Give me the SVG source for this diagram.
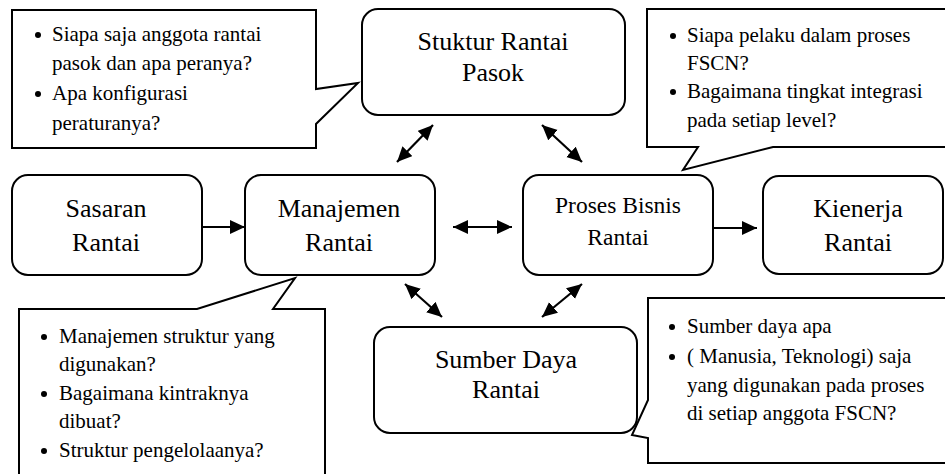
<svg xmlns="http://www.w3.org/2000/svg" width="945" height="474" viewBox="0 0 945 474">
<style>
.box{fill:#fff;stroke:#000;stroke-width:2}
.co{fill:#fff;stroke:#000;stroke-width:2;stroke-linejoin:miter}
text{font-family:'Liberation Serif',Tinos,'Times New Roman',Times,'Nimbus Roman','Nimbus Roman No9 L',FreeSerif,serif;fill:#000}
.nt{font-size:26px;text-anchor:middle}
.ct{font-size:21px}
.ar{stroke:#000;stroke-width:2.2;fill:none}
</style>
<defs>
<marker id="ah" markerUnits="userSpaceOnUse" markerWidth="17" markerHeight="15" refX="15" refY="7" orient="auto-start-reverse">
<path d="M0,0 L15,7 L0,14 z" fill="#000"/>
</marker>
</defs>
<rect width="945" height="474" fill="#fff"/>

<g id="callout-struktur">
<path class="co" d="M12,10 H316 V89 L358,83 L316,124 V148 H12 Z"/>
<circle cx="38" cy="35" r="3"/>
<text class="ct" x="52" y="41">Siapa saja anggota rantai</text>
<text class="ct" x="52" y="70">pasok dan apa peranya?</text>
<circle cx="38" cy="94" r="3"/>
<text class="ct" x="52" y="100">Apa konfigurasi</text>
<text class="ct" x="52" y="130">peraturanya?</text>
</g>

<g id="callout-proses">
<path class="co" d="M647,9 H952 V147 H773 L683,170 L698,147 H647 Z"/>
<circle cx="673" cy="36" r="3"/>
<text class="ct" x="687" y="42">Siapa pelaku dalam proses</text>
<text class="ct" x="687" y="70">FSCN?</text>
<circle cx="673" cy="92" r="3"/>
<text class="ct" x="687" y="98">Bagaimana tingkat integrasi</text>
<text class="ct" x="687" y="127">pada setiap level?</text>
</g>

<g id="callout-manajemen">
<path class="co" d="M19,309 H197 L295,278 L273,309 H325 V480 H19 Z"/>
<circle cx="44" cy="337" r="3"/>
<text class="ct" x="59" y="343">Manajemen struktur yang</text>
<text class="ct" x="59" y="371">digunakan?</text>
<circle cx="44" cy="394" r="3"/>
<text class="ct" x="59" y="400">Bagaimana kintraknya</text>
<text class="ct" x="59" y="428">dibuat?</text>
<circle cx="44" cy="451" r="3"/>
<text class="ct" x="59" y="457">Struktur pengelolaanya?</text>
</g>

<g id="callout-sumber">
<path class="co" d="M648,298 H952 V463 H648 V438 L632,435 L648,400 Z"/>
<circle cx="672" cy="327" r="3"/>
<text class="ct" x="687" y="333">Sumber daya apa</text>
<circle cx="672" cy="357" r="3"/>
<text class="ct" x="687" y="363">( Manusia, Teknologi) saja</text>
<text class="ct" x="687" y="392">yang digunakan pada proses</text>
<text class="ct" x="687" y="420">di setiap anggota FSCN?</text>
</g>

<g id="node-stuktur">
<rect class="box" x="362" y="9" width="263" height="106" rx="16"/>
<text class="nt" x="493" y="50">Stuktur Rantai</text>
<text class="nt" x="493" y="81">Pasok</text>
</g>

<g id="node-sasaran">
<rect class="box" x="12" y="175" width="190" height="100" rx="16"/>
<text class="nt" x="106" y="217">Sasaran</text>
<text class="nt" x="106" y="251">Rantai</text>
</g>

<g id="node-manajemen">
<rect class="box" x="245" y="175" width="190" height="100" rx="16"/>
<text class="nt" x="339" y="217">Manajemen</text>
<text class="nt" x="339" y="251">Rantai</text>
</g>

<g id="node-proses">
<rect class="box" x="523" y="175" width="190" height="100" rx="16"/>
<text class="nt" x="618" y="213" style="font-size:23.5px">Proses Bisnis</text>
<text class="nt" x="618" y="245" style="font-size:23.5px">Rantai</text>
</g>

<g id="node-kienerja">
<rect class="box" x="763" y="176" width="180" height="98" rx="16"/>
<text class="nt" x="858" y="217">Kienerja</text>
<text class="nt" x="858" y="251">Rantai</text>
</g>

<g id="node-sumber">
<rect class="box" x="374" y="327" width="263" height="106" rx="16"/>
<text class="nt" x="506" y="368">Sumber Daya</text>
<text class="nt" x="506" y="398">Rantai</text>
</g>

<g id="connectors">
<line class="ar" x1="202" y1="227" x2="245" y2="227" marker-end="url(#ah)"/>
<line class="ar" x1="453" y1="227" x2="512" y2="227" marker-start="url(#ah)" marker-end="url(#ah)"/>
<line class="ar" x1="713" y1="228" x2="757" y2="228" marker-end="url(#ah)"/>
<line class="ar" x1="397" y1="162" x2="433" y2="125" marker-start="url(#ah)" marker-end="url(#ah)"/>
<line class="ar" x1="542" y1="125" x2="582" y2="162" marker-start="url(#ah)" marker-end="url(#ah)"/>
<line class="ar" x1="405" y1="284" x2="442" y2="317" marker-start="url(#ah)" marker-end="url(#ah)"/>
<line class="ar" x1="542" y1="317" x2="582" y2="284" marker-start="url(#ah)" marker-end="url(#ah)"/>
</g>
</svg>
